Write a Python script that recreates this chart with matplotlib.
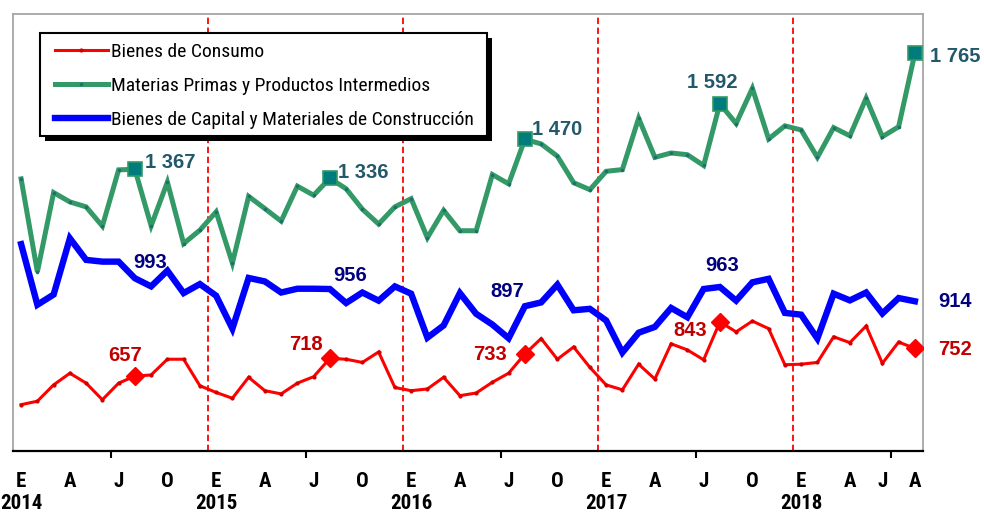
import matplotlib
matplotlib.use("Agg")
import matplotlib.pyplot as plt
from matplotlib import font_manager as fm
from matplotlib.font_manager import FontProperties
from matplotlib.lines import Line2D
from matplotlib.patches import Rectangle


def find_narrow(bold):
    prefs = ['liberationsansnarrow', 'arialnarrow', 'robotocondensed', 'dejavusanscondensed',
             'opensanscondensed', 'notosanscondensed']
    files = [f.fname for f in fm.fontManager.ttflist]
    for p in prefs:
        for fn in files:
            base = fn.lower().replace('-', '').replace('_', '').replace(' ', '').split('/')[-1]
            if base.startswith(p):
                is_bold = 'bold' in base
                is_ital = 'italic' in base or 'oblique' in base
                if is_bold == bold and not is_ital:
                    return fn
    return None


nb = find_narrow(True)
nr = find_narrow(False)
HAVE_NARROW = nb is not None and nr is not None


def fp_narrow(bold, size):
    if HAVE_NARROW:
        return FontProperties(fname=nb if bold else nr, size=size)
    return FontProperties(family='Liberation Sans', weight='bold' if bold else 'normal',
                          size=size * 0.86)


# ---------------- data ----------------
years = [2014, 2015, 2016, 2017, 2018]
n_months = 56  # Jan 2014 .. Aug 2018

consumo = [559, 571, 627, 667, 633, 576, 633, 657, 661, 715, 715, 624,
           601, 581, 653, 607, 596, 633, 655, 718, 715, 704, 740, 618,
           607, 613, 653, 590, 599, 636, 667, 733, 786, 715, 757, 687,
           627, 610, 698, 647, 768, 747, 713, 843, 809, 846, 820, 696,
           698, 704, 792, 772, 829, 701, 774, 752]

materias = [1334, 1015, 1287, 1255, 1238, 1172, 1365, 1367, 1173, 1323, 1112, 1158,
            1221, 1045, 1274, 1232, 1189, 1309, 1278, 1336, 1300, 1230, 1179, 1238,
            1266, 1132, 1226, 1156, 1156, 1349, 1317, 1470, 1454, 1412, 1321, 1297,
            1360, 1366, 1542, 1408, 1423, 1417, 1380, 1592, 1524, 1645, 1471, 1516,
            1502, 1408, 1510, 1482, 1611, 1479, 1513, 1765]

capital = [1110, 902, 937, 1130, 1056, 1050, 1050, 993, 965, 1019, 942, 973,
           933, 820, 994, 982, 944, 957, 957, 956, 908, 944, 916, 965,
           940, 789, 831, 942, 871, 834, 787, 897, 910, 971, 883, 888,
           848, 738, 806, 826, 891, 859, 956, 963, 916, 979, 991, 874,
           868, 786, 940, 917, 944, 872, 925, 914]

label_idx = [7, 19, 31, 43, 55]  # August of each year

tick_pos = [0, 3, 6, 9, 12, 15, 18, 21, 24, 27, 30, 33, 36, 39, 42, 45, 48, 51, 53, 55]
tick_txt = ["E", "A", "J", "O", "E", "A", "J", "O", "E", "A", "J", "O",
            "E", "A", "J", "O", "E", "A", "J", "A"]

series_names = ["Bienes de Consumo",
                "Materias Primas y Productos Intermedios",
                "Bienes de Capital y Materiales de Construcción"]

off_mat = [(10, 7, 'left'), (8, 6, 'left'), (7, 10, 'left'), (-8, 21, 'center'), (15, -3, 'left')]
off_cap = [(15, 16, 'center'), (20, 14, 'center'), (-18, 15, 'center'), (2, 21, 'center'), (40, 0, 'center')]
off_con = [(-10, 21, 'center'), (-24, 14, 'center'), (-35, -1, 'center'), (-30, -9, 'center'), (40, -1, 'center')]

C_RED = '#FF0000'
C_GREEN = '#339966'
C_BLUE = '#0000FF'
C_GLAB = '#22596A'
C_BLAB = '#000080'
C_RLAB = '#C00000'

W, H = 984, 512

# ---------------- figure ----------------
fig = plt.figure(figsize=(W / 100, H / 100), dpi=100)
ax = fig.add_axes([13 / W, 1 - 451 / H, (923 - 13) / W, (451 - 14) / H])

x = list(range(n_months))
ax.plot(x, materias, color=C_GREEN, lw=3.6, solid_joinstyle='miter', zorder=3,
        marker='o', ms=1.5, mfc='#1F6E6E', mec='#1F6E6E')
ax.plot(x, capital, color=C_BLUE, lw=4.6, solid_joinstyle='miter', zorder=3)
ax.plot(x, consumo, color=C_RED, lw=2.2, solid_joinstyle='miter', zorder=4,
        marker='o', ms=2, mfc='#D00000', mec='#D00000')

ax.plot(label_idx, [materias[i] for i in label_idx], ls='none', marker='s', ms=10,
        mfc='#007C7C', mec=C_GREEN, mew=1.2, zorder=5)
ax.plot(label_idx, [consumo[i] for i in label_idx], ls='none', marker='D', ms=9,
        mfc=C_RED, mec=C_RED, zorder=5)

lab_font = dict(family='Liberation Sans', weight='bold', fontsize=14.5)
for k, i in enumerate(label_idx):
    for vals, offs, col in ((materias, off_mat, C_GLAB), (capital, off_cap, C_BLAB), (consumo, off_con, C_RLAB)):
        dx, dy, ha = offs[k]
        ax.annotate(f"{vals[i]:,}".replace(",", " "), xy=(i, vals[i]), xytext=(dx, dy),
                    textcoords='offset pixels', ha=ha, va='center', color=col,
                    annotation_clip=False, zorder=6, **lab_font)

for y in range(1, len(years)):
    ax.axvline(12 * y - 0.5, color=C_RED, lw=1.3, ls=(0, (3.5, 2)), zorder=1)

ax.set_xlim(-0.5, n_months - 0.5)
ax.set_ylim(400, 1900)
ax.set_yticks([])

labels = []
for p, t in zip(tick_pos, tick_txt):
    labels.append(f"{t}\n{years[p // 12]}" if p % 12 == 0 else t)
ax.set_xticks(tick_pos)
ax.set_xticklabels(labels, fontproperties=fp_narrow(True, 15), linespacing=1.2)
ax.tick_params(axis='x', which='major', length=0, pad=15)
ax.set_xticks([5.5 + 12 * k for k in range(len(years))], minor=True)
ax.tick_params(axis='x', which='minor', length=5, width=1.5, direction='out', color='black')

for s in ('top', 'right', 'left'):
    ax.spines[s].set_color('#A6A6A6')
    ax.spines[s].set_linewidth(1.3)
ax.spines['bottom'].set_color('black')
ax.spines['bottom'].set_linewidth(1.6)

# legend: frame + shadow drawn as patches, entries by legend
box_x0, box_y0, box_x1, box_y1 = 40, 33, 487, 136  # pixels from top-left
fig.add_artist(Rectangle((box_x0 + 5, H - box_y1 - 5), box_x1 - box_x0, box_y1 - box_y0,
                         transform=None, facecolor='black', edgecolor='none', zorder=8))
fig.add_artist(Rectangle((box_x0, H - box_y1), box_x1 - box_x0, box_y1 - box_y0,
                         transform=None, facecolor='white', edgecolor='black', lw=1.5, zorder=9))

handles = [Line2D([], [], color=C_RED, lw=2.2, marker='o', ms=2, mfc='#D00000', mec='#D00000'),
           Line2D([], [], color=C_GREEN, lw=3.6, marker='o', ms=1.5, mfc='#1F6E6E', mec='#1F6E6E'),
           Line2D([], [], color=C_BLUE, lw=4.6)]
leg = fig.legend(handles, series_names, loc='upper left',
                 bbox_to_anchor=(55 / W, 1 - 43 / H), bbox_transform=fig.transFigure,
                 borderaxespad=0, frameon=False,
                 prop=fp_narrow(False, 14), handlelength=2.7, handletextpad=0.2,
                 labelspacing=0.83, borderpad=0)
leg.set_zorder(10)

fig.savefig("out.png", dpi=100)
